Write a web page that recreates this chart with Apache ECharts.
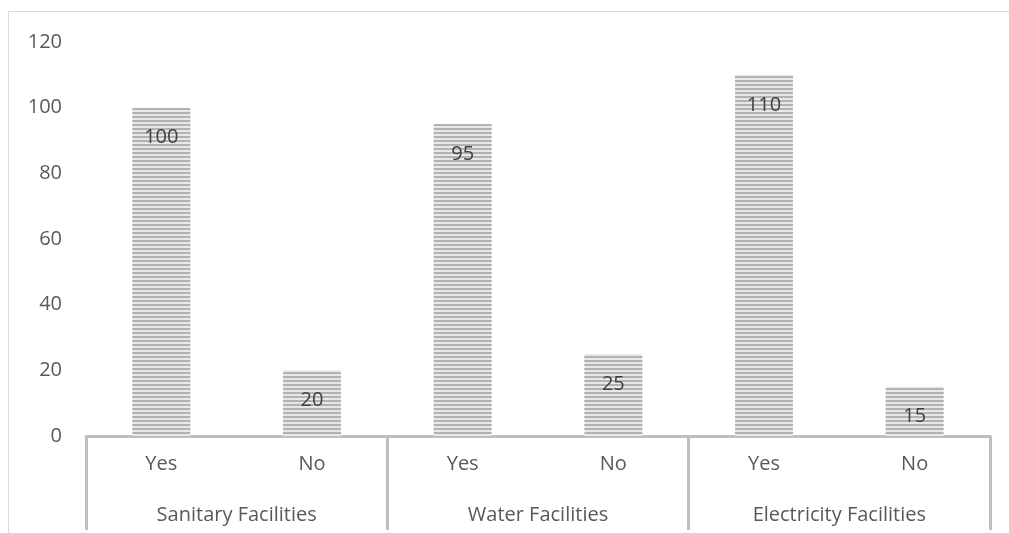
<!DOCTYPE html>
<html>
<head>
<meta charset="utf-8">
<script src="https://cdn.jsdelivr.net/npm/echarts@6/dist/echarts.min.js"></script>
<style>
  html, body { margin: 0; padding: 0; background: #fff; }
  .frame {
    position: absolute; left: 8px; top: 11px; width: 1010px; height: 530px;
    border: 1px solid #d9d9d9; box-sizing: border-box;
  }
  #chart { position: absolute; left: 0; top: 0; width: 1009px; height: 533px; }
</style>
</head>
<body>
<div class="frame"></div>
<div id="chart"></div>
<script>
// data
const answers = ["Yes", "No", "Yes", "No", "Yes", "No"];
const groups = ["Sanitary Facilities", "Water Facilities", "Electricity Facilities"];
const counts = [100, 20, 95, 25, 110, 15];
const yTicks = { min: 0, max: 120, interval: 20 };

// striped fill like the original bars
const stripe = document.createElement("canvas");
stripe.width = 4;
stripe.height = 4;
const ctx = stripe.getContext("2d");
ctx.fillStyle = "#e8e8e8";
ctx.fillRect(0, 0, 4, 4);
ctx.fillStyle = "#b2b2b2";
ctx.fillRect(0, 0, 4, 2);

const font = "Open Sans";
const chart = echarts.init(document.getElementById("chart"));
chart.setOption({
  animation: false,
  grid: { left: 86, right: 19, top: 42, bottom: 97 },
  xAxis: [
    {
      type: "category",
      data: answers,
      axisLine: { lineStyle: { color: "#bfbfbf", width: 3 } },
      axisTick: { show: false },
      axisLabel: { color: "#595959", fontSize: 20, fontFamily: font, margin: 18 },
    },
    {
      type: "category",
      data: groups,
      position: "bottom",
      axisLine: { show: false },
      axisTick: { show: true, length: 94, lineStyle: { color: "#bfbfbf", width: 3 } },
      axisLabel: { color: "#595959", fontSize: 20, fontFamily: font, margin: 69 },
    },
  ],
  yAxis: {
    type: "value",
    min: yTicks.min,
    max: yTicks.max,
    interval: yTicks.interval,
    axisLine: { show: false },
    axisTick: { show: false },
    splitLine: { show: false },
    axisLabel: { color: "#595959", fontSize: 20, fontFamily: font, margin: 24 },
  },
  series: [
    {
      type: "bar",
      xAxisIndex: 0,
      data: counts,
      barWidth: 58,
      itemStyle: { color: { image: stripe, repeat: "repeat" } },
      label: {
        show: true,
        position: "insideTop",
        distance: 20,
        color: "#404040",
        fontSize: 20,
        fontFamily: font,
      },
    },
  ],
});
</script>
</body>
</html>
